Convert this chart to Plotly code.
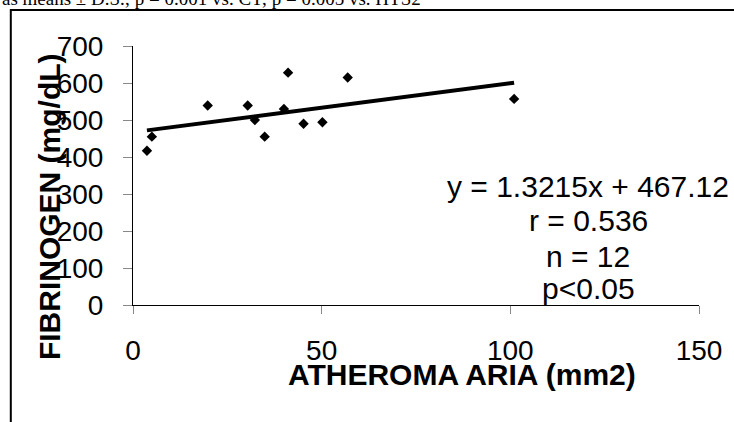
import plotly.graph_objects as go

# ---- data ----
atheroma_area = [3.7, 5.0, 19.8, 30.4, 32.3, 34.9, 40.0, 41.1, 45.2, 50.2, 56.9, 101.0]
fibrinogen = [417, 455, 539, 539, 500, 455, 530, 628, 490, 494, 615, 557]
slope = 1.3215
intercept = 467.12
stats_lines = ["y = 1.3215x + 467.12", "r = 0.536", "n = 12", "p<0.05"]
x_ticks = [0, 50, 100, 150]
y_ticks = [0, 100, 200, 300, 400, 500, 600, 700]
x_title = "ATHEROMA ARIA (mm2)"
y_title = "FIBRINOGEN (mg/dL)"
top_text = "as means ± D.S.; p = 0.001 vs. CT; p = 0.005 vs. HTS2"

FONT = "Arial, 'Liberation Sans', sans-serif"

fit_x = [min(atheroma_area), max(atheroma_area)]
fit_y = [slope * v + intercept for v in fit_x]

fig = go.Figure()
fig.add_trace(go.Scatter(
    x=fit_x, y=fit_y, mode="lines",
    line=dict(color="black", width=4), showlegend=False, hoverinfo="skip"))
fig.add_trace(go.Scatter(
    x=atheroma_area, y=fibrinogen, mode="markers",
    marker=dict(symbol="diamond", size=8, color="black"), showlegend=False))

# plot-area geometry in pixels
L, R, T, B = 132.7, 701.0, 46.0, 305.3
W, H = 734, 422
pw, ph = R - L, B - T

def px_x(px):
    return (px - L) / pw

def px_y(py):
    return (B - py) / ph

annotations = []
stat_centers = [186.6, 220.3, 256.3, 288.6]
for txt, cy in zip(stats_lines, stat_centers):
    annotations.append(dict(
        text=txt, xref="paper", yref="paper", x=px_x(590), y=px_y(cy),
        xanchor="center", yanchor="middle", showarrow=False,
        font=dict(family=FONT, size=30, color="black")))

annotations.append(dict(
    text="<b>" + x_title + "</b>", xref="paper", yref="paper",
    x=px_x(463.5), y=px_y(374.5), xanchor="center", yanchor="middle",
    showarrow=False, font=dict(family=FONT, size=30, color="black")))
annotations.append(dict(
    text="<b>" + y_title + "</b>", xref="paper", yref="paper",
    x=px_x(49.6), y=px_y(207), xanchor="center", yanchor="middle",
    textangle=-90, showarrow=False, font=dict(family=FONT, size=30, color="black")))
annotations.append(dict(
    text=top_text, xref="paper", yref="paper",
    x=px_x(-1), y=px_y(-1.4), xanchor="left", yanchor="middle",
    showarrow=False,
    font=dict(family="'Times New Roman', 'Liberation Serif', serif", size=19, color="black")))

fig.update_layout(
    width=W, height=H, autosize=False,
    margin=dict(l=L, r=W - R, t=T, b=H - B, pad=0),
    paper_bgcolor="white", plot_bgcolor="white",
    font=dict(family=FONT, size=28, color="black"),
    annotations=annotations,
    shapes=[dict(type="rect", xref="paper", yref="paper",
                 x0=px_x(10), x1=px_x(760), y0=px_y(460), y1=px_y(10),
                 line=dict(color="black", width=2), layer="above")],
)
fig.update_xaxes(
    range=[0, 150], tickvals=x_ticks, showgrid=False, zeroline=False,
    showline=True, linecolor="black", linewidth=1,
    ticks="outside", ticklen=8, tickcolor="#888888", tickwidth=1,
    tickfont=dict(family=FONT, size=28, color="black"), ticklabelstandoff=12)
fig.update_yaxes(
    range=[0, 700], tickvals=y_ticks, showgrid=False, zeroline=False,
    showline=True, linecolor="black", linewidth=1,
    ticks="outside", ticklen=9, tickcolor="#888888", tickwidth=1,
    tickfont=dict(family=FONT, size=28, color="black"), ticklabelstandoff=14)

fig.write_html("out.html", config={"displayModeBar": False},
               post_script="document.body.style.margin='0';")
